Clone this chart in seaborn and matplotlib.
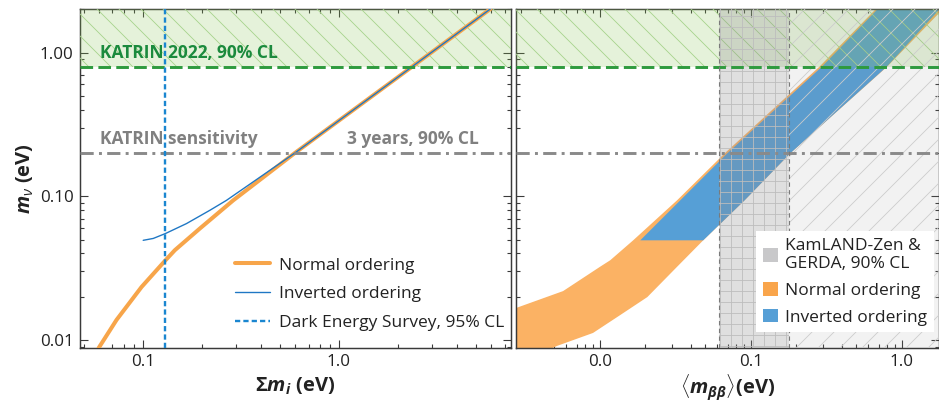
import matplotlib
matplotlib.use("Agg")
import matplotlib.pyplot as plt
import seaborn as sns
from matplotlib.patches import Patch
from matplotlib.lines import Line2D

# ---------------- data ----------------
# Left panel: effective mass m_nu vs sum of masses
no_sum = [0.0595, 0.0734, 0.0985, 0.1305, 0.1457, 0.1954, 0.289, 0.596, 2.37, 5.95]
no_mbeta = [0.0088, 0.0138, 0.0234, 0.0359, 0.0422, 0.0597, 0.0937, 0.200, 0.80, 2.02]
io_sum = [0.1004, 0.113, 0.1305, 0.167, 0.22, 0.267, 0.596, 2.37, 5.95]
io_mbeta = [0.0494, 0.0509, 0.0551, 0.0646, 0.080, 0.0937, 0.200, 0.80, 2.02]

# Right panel: bands in (m_bb, m_beta)
no_lo_mbeta = [0.0080, 0.0144, 0.0167, 0.0219, 0.0323, 0.0359, 0.0494, 0.094, 0.199, 0.80, 2.1]
no_lo_mbb = [0.0010, 0.0019, 0.00278, 0.0057, 0.0100, 0.0117, 0.0166, 0.0325, 0.067, 0.285, 0.70]
no_hi_mbeta = [0.0080, 0.0091, 0.0112, 0.0149, 0.0199, 0.0323, 0.0494, 0.094, 0.199, 0.80, 2.1]
no_hi_mbb = [0.0040, 0.0052, 0.0090, 0.0136, 0.0206, 0.0324, 0.0483, 0.091, 0.182, 0.80, 1.95]
io_lo_mbeta = [0.0494, 0.199, 0.80, 2.1]
io_lo_mbb = [0.0185, 0.0697, 0.296, 0.72]
io_hi_mbeta = [0.0494, 0.094, 0.199, 0.80, 2.1]
io_hi_mbb = [0.0483, 0.091, 0.182, 0.796, 1.85]

katrin_limit = 0.8
katrin_sens = 0.2
des_limit = 0.13
kz_range = [0.061, 0.18]

left_xticks = [0.1, 1.0]
left_xlabels = ["0.1", "1.0"]
yticks = [0.01, 0.1, 1.0]
ylabels = ["0.01", "0.10", "1.00"]
right_xticks = [0.01, 0.1, 1.0]
right_xlabels = ["0.0", "0.1", "1.0"]

# ---------------- style ----------------
sns.set_theme(style="ticks")
plt.rcParams['font.family'] = ['Open Sans', 'DejaVu Sans']
plt.rcParams['mathtext.fontset'] = 'custom'
plt.rcParams['mathtext.rm'] = 'Open Sans'
plt.rcParams['mathtext.it'] = 'Open Sans:italic'
plt.rcParams['mathtext.bf'] = 'Open Sans:bold'
plt.rcParams['mathtext.bfit'] = 'Open Sans:italic:bold'
plt.rcParams['hatch.linewidth'] = 0.45

C_NO_LINE = '#f7a54a'
C_IO_LINE = '#1f77c4'
C_DES = '#1a86d0'
C_NO_FILL = '#fbb264'
C_IO_FILL = '#569fd6'
C_GREEN = '#2e9a3e'
C_GREEN_TXT = '#1b8a3d'
C_GREY_TXT = '#808080'
SPINE = '#3a3a3a'

DPI = 132
fig = plt.figure(figsize=(939 / DPI, 400 / DPI), dpi=DPI)
ax1 = fig.add_axes([80 / 939, 52 / 400, 431 / 939, 339 / 400])
ax2 = fig.add_axes([516 / 939, 52 / 400, 423 / 939, 339 / 400])

for ax in (ax1, ax2):
    ax.set_xscale('log')
    ax.set_yscale('log')
    ax.set_ylim(0.0088, 2.01)
    for s in ax.spines.values():
        s.set_color(SPINE)
        s.set_linewidth(0.8)
    ax.tick_params(which='both', direction='in', top=True, right=True,
                   color=SPINE, width=0.6, labelsize=9.3, labelcolor='#222222')
    ax.tick_params(which='major', length=4.4, pad=3.5)
    ax.tick_params(which='minor', length=2.2)
    # KATRIN 2022 excluded region
    ax.axhspan(katrin_limit, 10, facecolor=(0.55, 0.78, 0.35, 0.22),
               edgecolor='#a6d38b', hatch='\\\\', lw=0, zorder=3)
    ax.axhline(katrin_limit, color=C_GREEN, lw=1.6, dashes=(4.3, 1.8), zorder=6)
    ax.axhline(katrin_sens, color='#8a8a8a', lw=1.6, dashes=(4.5, 1.8, 1.0, 1.8), zorder=6)

ax1.set_xlim(0.0478, 7.55)
ax2.set_xlim(0.00278, 1.76)

# ---------------- left panel ----------------
sns.lineplot(x=no_sum, y=no_mbeta, ax=ax1, color=C_NO_LINE, lw=2.2,
             sort=False, estimator=None, zorder=4)
sns.lineplot(x=io_sum, y=io_mbeta, ax=ax1, color=C_IO_LINE, lw=0.75,
             sort=False, estimator=None, zorder=5)
ax1.axvline(des_limit, color=C_DES, lw=1.3, dashes=(2.2, 1.3), zorder=6)

ax1.set_xticks(left_xticks, left_xlabels)
ax1.set_yticks(yticks, ylabels)
ax1.set_xlabel(r'$\mathbf{\Sigma}\mathbfit{m}_{\mathbfit{i}}$ (eV)', fontsize=11,
               fontweight='bold', color='#222222', labelpad=3)
ax1.set_ylabel(r'$\mathbfit{m}_{\nu}$ (eV)', fontsize=11, fontweight='bold',
               color='#222222', labelpad=2)

ax1.text(0.0604, 0.919, 'KATRIN 2022, 90% CL', color=C_GREEN_TXT, fontsize=9.5,
         fontweight='bold', va='baseline', ha='left', zorder=7)
ax1.text(0.0604, 0.2297, 'KATRIN sensitivity', color=C_GREY_TXT, fontsize=9.5,
         fontweight='bold', va='baseline', ha='left', zorder=7)
ax1.text(5.18, 0.2297, '3 years, 90% CL', color=C_GREY_TXT, fontsize=9.5,
         fontweight='bold', va='baseline', ha='right', zorder=7)

h_left = [Line2D([], [], color=C_NO_LINE, lw=2.2),
          Line2D([], [], color=C_IO_LINE, lw=0.75),
          Line2D([], [], color=C_DES, lw=1.3, dashes=(2.2, 1.3))]
leg1 = ax1.legend(h_left, ['Normal ordering', 'Inverted ordering',
                           'Dark Energy Survey, 95% CL'],
                  loc='lower left', bbox_to_anchor=(0.36, 0.05), frameon=False,
                  fontsize=9.5, handlelength=2.0, handletextpad=0.5,
                  labelspacing=0.72, borderpad=0, borderaxespad=0)
for t in leg1.get_texts():
    t.set_color('#222222')

# ---------------- right panel ----------------
no_poly_x = no_lo_mbb + no_hi_mbb[::-1]
no_poly_y = no_lo_mbeta + no_hi_mbeta[::-1]
ax2.fill(no_poly_x, no_poly_y, color=C_NO_FILL, lw=0, zorder=1)
io_poly_x = io_lo_mbb + io_hi_mbb[::-1]
io_poly_y = io_lo_mbeta + io_hi_mbeta[::-1]
ax2.fill(io_poly_x, io_poly_y, color=C_IO_FILL, lw=0, zorder=2)

ax2.axvspan(kz_range[0], kz_range[1], facecolor=(0.55, 0.55, 0.55, 0.28),
            edgecolor='#bdbdbd', hatch='++', lw=0, zorder=3)
ax2.axvspan(kz_range[1], 10, facecolor=(0.55, 0.55, 0.55, 0.11),
            edgecolor='#cccccc', hatch='//', lw=0, zorder=3)
for xv in kz_range:
    ax2.axvline(xv, color='#7a7a7a', lw=0.6, dashes=(4, 3), zorder=6)

ax2.set_xticks(right_xticks, right_xlabels)
ax2.set_yticks(yticks, ['', '', ''])
ax2.tick_params(labelleft=False)
ax2.set_xlabel(r'$\langle\mathbfit{m}_{\mathbfit{\beta\beta}}\rangle$(eV)', fontsize=11,
               fontweight='bold', color='#222222', labelpad=1)

h_right = [Patch(facecolor='#c8c8ca', edgecolor='none'),
           Patch(facecolor='#f9a54b', edgecolor='none'),
           Patch(facecolor=C_IO_FILL, edgecolor='none')]
leg2 = ax2.legend(h_right, ['KamLAND-Zen &\nGERDA, 90% CL', 'Normal ordering',
                            'Inverted ordering'],
                  loc='upper right', bbox_to_anchor=(0.988, 0.345), frameon=True,
                  fontsize=9.5, handlelength=0.85, handleheight=0.85,
                  handletextpad=0.4, labelspacing=0.55, borderpad=0.4,
                  borderaxespad=0, fancybox=False)
leg2.get_frame().set_facecolor('white')
leg2.get_frame().set_edgecolor('none')
leg2.get_frame().set_alpha(1.0)
leg2.set_zorder(10)
for t in leg2.get_texts():
    t.set_color('#222222')

fig.savefig('out.png', dpi=DPI)
